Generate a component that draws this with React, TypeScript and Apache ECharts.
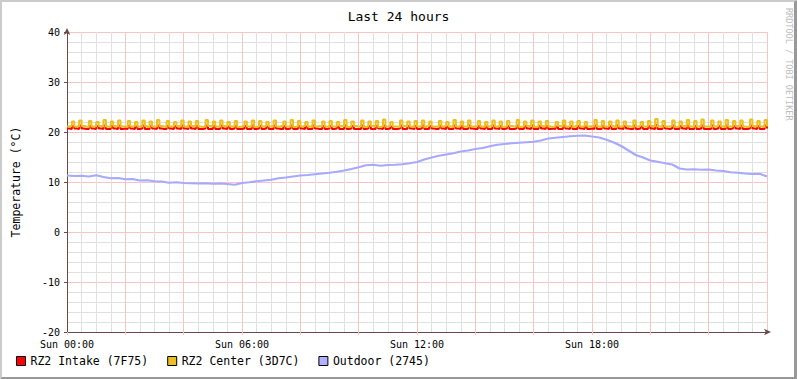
import React, { useEffect, useRef } from "react";
import * as echarts from "echarts";

// 5-minute samples, 00:00 .. 24:00 (289 values)
const rz2Intake: number[] = [
  20.7, 20.6, 21.2, 20.7, 20.6, 21.3, 20.7, 20.6, 20.6, 21.2, 20.7, 20.6,
  21.2, 20.7, 20.6, 21.3, 20.6, 20.6, 21.2, 20.7, 20.6, 21.3, 20.6, 20.7,
  20.6, 21.2, 20.7, 20.6, 21.1, 20.6, 20.7, 21.3, 20.6, 20.6, 21.2, 20.7,
  20.6, 21.3, 20.7, 20.6, 20.6, 21.2, 20.7, 20.6, 21.2, 20.7, 20.6, 21.3,
  20.7, 20.6, 21.2, 20.7, 20.6, 21.2, 20.6, 20.6, 20.7, 21.3, 20.6, 20.6,
  21.2, 20.6, 20.6, 21.3, 20.7, 20.6, 21.1, 20.6, 20.7, 21.2, 20.6, 20.6,
  20.7, 21.2, 20.6, 20.6, 21.3, 20.6, 20.7, 21.2, 20.6, 20.7, 21.1, 20.6,
  20.6, 21.3, 20.7, 20.6, 20.6, 21.2, 20.6, 20.7, 21.3, 20.6, 20.6, 21.2,
  20.7, 20.6, 21.1, 20.6, 20.6, 21.3, 20.7, 20.6, 20.6, 21.2, 20.6, 20.7,
  21.2, 20.6, 20.7, 21.1, 20.6, 20.6, 21.3, 20.6, 20.7, 21.2, 20.6, 20.6,
  20.6, 21.3, 20.6, 20.7, 21.2, 20.6, 20.6, 21.2, 20.7, 20.6, 21.3, 20.6,
  20.7, 21.1, 20.6, 20.6, 20.7, 21.3, 20.6, 20.6, 21.2, 20.7, 20.6, 21.2,
  20.6, 20.7, 21.3, 20.6, 20.6, 21.2, 20.7, 20.6, 20.6, 21.2, 20.7, 20.6,
  21.1, 20.6, 20.6, 21.3, 20.7, 20.6, 21.2, 20.6, 20.6, 21.3, 20.7, 20.6,
  20.6, 21.2, 20.7, 20.6, 21.1, 20.6, 20.6, 21.3, 20.7, 20.6, 21.2, 20.6,
  20.7, 21.2, 20.6, 20.6, 20.7, 21.3, 20.6, 20.6, 21.2, 20.7, 20.6, 21.3,
  20.6, 20.6, 21.2, 20.7, 20.6, 21.2, 20.6, 20.7, 20.6, 21.1, 20.6, 20.6,
  21.3, 20.7, 20.6, 21.2, 20.6, 20.6, 21.2, 20.7, 20.6, 21.1, 20.6, 20.7,
  20.6, 21.3, 20.6, 20.6, 21.2, 20.7, 20.6, 21.2, 20.6, 20.6, 21.3, 20.7,
  20.6, 21.2, 20.7, 20.6, 20.6, 21.3, 20.6, 20.7, 21.1, 20.6, 20.6, 21.2,
  20.7, 20.6, 21.4, 20.6, 20.6, 21.2, 20.7, 20.6, 20.7, 21.3, 20.6, 20.6,
  21.2, 20.7, 20.6, 21.3, 20.6, 20.6, 21.2, 20.6, 20.7, 21.3, 20.6, 20.6,
  20.6, 21.3, 20.6, 20.7, 21.2, 20.6, 20.6, 21.3, 20.6, 20.7, 21.2, 20.7,
  20.6, 21.3, 20.6, 20.6, 20.7, 21.3, 20.7, 20.6, 21.2, 20.6, 20.6, 21.3,
  20.7,
];

const rz2Center: number[] = [
  21.1, 21.2, 22.1, 21.1, 21.1, 22.3, 21.2, 21.1, 21.0, 22.2, 21.1, 21.1,
  22.0, 21.2, 21.1, 22.4, 21.1, 21.0, 22.1, 21.2, 21.1, 22.3, 21.1, 21.1,
  21.0, 22.2, 21.1, 21.2, 22.0, 21.1, 21.1, 22.3, 21.2, 21.0, 22.1, 21.1,
  21.1, 22.4, 21.2, 21.1, 21.0, 22.2, 21.1, 21.1, 22.0, 21.2, 21.1, 22.3,
  21.1, 21.0, 22.1, 21.2, 21.1, 22.2, 21.1, 21.0, 21.1, 22.4, 21.2, 21.1,
  22.1, 21.1, 21.0, 22.3, 21.2, 21.1, 22.0, 21.1, 21.1, 22.2, 21.0, 21.1,
  21.2, 22.1, 21.1, 21.1, 22.3, 21.0, 21.1, 22.2, 21.1, 21.2, 22.0, 21.1,
  21.1, 22.3, 21.1, 21.0, 21.2, 22.1, 21.1, 21.1, 22.4, 21.0, 21.1, 22.2,
  21.1, 21.2, 22.0, 21.1, 21.0, 22.3, 21.1, 21.2, 21.1, 22.1, 21.1, 21.0,
  22.2, 21.1, 21.1, 22.0, 21.2, 21.1, 22.4, 21.0, 21.1, 22.1, 21.2, 21.1,
  21.1, 22.3, 21.0, 21.1, 22.1, 21.2, 21.1, 22.2, 21.0, 21.1, 22.5, 21.1,
  21.2, 22.0, 21.1, 21.1, 21.0, 22.3, 21.2, 21.1, 22.1, 21.1, 21.0, 22.2,
  21.1, 21.1, 22.3, 21.0, 21.2, 22.1, 21.1, 21.1, 21.0, 22.2, 21.1, 21.2,
  22.0, 21.1, 21.0, 22.4, 21.1, 21.2, 22.1, 21.1, 21.0, 22.3, 21.1, 21.1,
  21.2, 22.2, 21.1, 21.0, 22.0, 21.1, 21.2, 22.3, 21.1, 21.1, 22.1, 21.0,
  21.1, 22.2, 21.2, 21.1, 21.1, 22.4, 21.0, 21.1, 22.1, 21.2, 21.1, 22.3,
  21.0, 21.1, 22.1, 21.2, 21.1, 22.2, 21.1, 21.0, 21.1, 22.0, 21.2, 21.1,
  22.3, 21.1, 21.1, 22.1, 21.0, 21.2, 22.2, 21.1, 21.1, 22.0, 21.1, 21.2,
  21.1, 22.4, 21.1, 21.0, 22.2, 21.1, 21.1, 22.1, 21.2, 21.0, 22.3, 21.1,
  21.1, 22.1, 21.2, 21.1, 21.0, 22.3, 21.1, 21.2, 22.0, 21.1, 21.1, 22.2,
  21.2, 21.1, 22.6, 21.1, 21.0, 22.2, 21.1, 21.1, 21.2, 22.3, 21.0, 21.1,
  22.1, 21.2, 21.1, 22.4, 21.1, 21.0, 22.2, 21.1, 21.2, 22.5, 21.1, 21.1,
  21.0, 22.3, 21.1, 21.2, 22.1, 21.1, 21.0, 22.4, 21.1, 21.1, 22.2, 21.2,
  21.1, 22.3, 21.1, 21.0, 21.1, 22.5, 21.2, 21.1, 22.2, 21.1, 21.0, 22.4,
  21.1,
];

// 15-minute samples, 00:00 .. 24:00 (97 values)
const outdoor: number[] = [
  11.3, 11.2, 11.25, 11.1, 11.35, 11.0, 10.75, 10.8,
  10.55, 10.6, 10.3, 10.35, 10.15, 10.1, 9.85, 9.95,
  9.8, 9.75, 9.7, 9.75, 9.65, 9.7, 9.6, 9.45,
  9.8, 9.95, 10.15, 10.3, 10.45, 10.75, 10.9, 11.1,
  11.3, 11.4, 11.55, 11.7, 11.85, 12.05, 12.3, 12.6,
  12.95, 13.35, 13.45, 13.25, 13.4, 13.45, 13.55, 13.75,
  14.0, 14.5, 14.9, 15.25, 15.5, 15.75, 16.1, 16.3,
  16.6, 16.8, 17.15, 17.45, 17.6, 17.75, 17.85, 17.95,
  18.05, 18.3, 18.7, 18.85, 19.0, 19.15, 19.25, 19.3,
  19.1, 18.9, 18.45, 17.9, 17.2, 16.3, 15.4, 14.9,
  14.3, 14.05, 13.75, 13.5, 12.7, 12.5, 12.55, 12.45,
  12.5, 12.3, 12.2, 11.95, 11.85, 11.7, 11.6, 11.65,
  11.1,
];

const seriesNames = ["RZ2 Intake (7F75)", "RZ2 Center (3D7C)", "Outdoor (2745)"];
const seriesColors = ["#ff0000", "#ecc01c", "#a8a8ff"];
const xTickLabels = ["Sun 00:00", "Sun 06:00", "Sun 12:00", "Sun 18:00"];
const titleText = "Last 24 hours";
const yAxisTitle = "Temperature (°C)";
const watermark = "RRDTOOL / TOBI OETIKER";

const MONO = "'DejaVu Sans Mono', monospace";
const MAJOR = "#f5c4c4";
const MINOR = "#e0e0e0";

export default function App() {
  const ref = useRef<HTMLDivElement>(null);

  useEffect(() => {
    if (!ref.current) return;
    const chart = echarts.init(ref.current, null, { renderer: "svg" });

    const toPairs = (arr: number[], step: number) => arr.map((v, i) => [i * step, v]);

    const option: any = {
      animation: false,
      backgroundColor: "#ffffff",
      title: {
        text: titleText,
        left: "center",
        top: 5,
        textStyle: { fontFamily: MONO, fontSize: 13, fontWeight: "normal", color: "#000" },
      },
      legend: {
        left: 16,
        top: 355,
        padding: 0,
        itemWidth: 9,
        itemHeight: 9,
        itemGap: 19,
        icon: "rect",
        itemStyle: { borderColor: "#000", borderWidth: 1 },
        textStyle: { fontFamily: MONO, fontSize: 11.5, color: "#000" },
        data: seriesNames,
      },
      grid: { left: 67, right: 30, top: 32, bottom: 47, containLabel: false },
      xAxis: {
        type: "value",
        min: 0,
        max: 1440,
        interval: 120,
        axisLine: {
          show: true,
          onZero: false,
          lineStyle: { color: "#6a4848", width: 1 },
          symbol: ["none", "arrow"],
          symbolSize: [5, 7],
          symbolOffset: [0, 4],
        },
        axisTick: { show: true, length: 3, lineStyle: { color: MAJOR } },
        axisLabel: {
          fontFamily: MONO,
          fontSize: 10,
          color: "#000",
          margin: 7,
          showMaxLabel: false,
          formatter: (v: number) => (v % 360 === 0 && v < 1440 ? xTickLabels[v / 360] : ""),
        },
        splitLine: { show: true, lineStyle: { color: MAJOR, width: 1 } },
        minorTick: { show: false, splitNumber: 4 },
        minorSplitLine: { show: true, lineStyle: { color: MINOR, width: 1 } },
      },
      yAxis: {
        type: "value",
        min: -20,
        max: 40,
        interval: 10,
        axisLine: {
          show: true,
          onZero: false,
          lineStyle: { color: "#6a4848", width: 1 },
          symbol: ["none", "arrow"],
          symbolSize: [5, 7],
          symbolOffset: [0, 4],
        },
        axisTick: { show: true, length: 3, lineStyle: { color: "#6a4848" } },
        axisLabel: { fontFamily: MONO, fontSize: 10, color: "#000", margin: 7 },
        splitLine: { show: true, lineStyle: { color: MAJOR, width: 1 } },
        minorTick: { show: false, splitNumber: 5 },
        minorSplitLine: { show: true, lineStyle: { color: MINOR, width: 1 } },
      },
      series: [
        {
          name: seriesNames[0],
          type: "line",
          step: "end",
          showSymbol: false,
          data: toPairs(rz2Intake, 5),
          itemStyle: { color: seriesColors[0] },
          lineStyle: { color: seriesColors[0], width: 2 },
          z: 3,
        },
        {
          name: seriesNames[1],
          type: "line",
          step: "end",
          showSymbol: false,
          data: toPairs(rz2Center, 5),
          itemStyle: { color: seriesColors[1] },
          lineStyle: { color: seriesColors[1], width: 2 },
          z: 4,
        },
        {
          name: seriesNames[2],
          type: "line",
          showSymbol: false,
          data: toPairs(outdoor, 15),
          itemStyle: { color: "#b0b0ff" },
          lineStyle: { color: seriesColors[2], width: 2.2 },
          z: 3,
        },
      ],
      graphic: [
        {
          type: "polygon",
          shape: { points: [[0, 0], [797, 0], [795, 2], [2, 2], [2, 377], [0, 379]] },
          style: { fill: "#cbcbcb" },
          silent: true,
        },
        {
          type: "polygon",
          shape: { points: [[797, 0], [797, 379], [0, 379], [2, 377], [794, 377], [794, 2]] },
          style: { fill: "#999999" },
          silent: true,
        },
        {
          type: "text",
          x: 16,
          y: 182,
          rotation: Math.PI / 2,
          style: {
            text: yAxisTitle,
            fontFamily: MONO,
            fontSize: 11.5,
            fill: "#000",
            align: "center",
            verticalAlign: "middle",
          },
        },
        {
          type: "text",
          x: 789,
          y: 8,
          rotation: -Math.PI / 2,
          style: {
            text: watermark,
            fontFamily: MONO,
            fontSize: 8.5,
            fill: "#bdbdbd",
            align: "left",
            verticalAlign: "middle",
          },
        },
      ],
    };

    chart.setOption(option);
    return () => chart.dispose();
  }, []);

  return (
    <div
      ref={ref}
      style={{ position: "fixed", left: 0, top: 0, width: 797, height: 379, background: "#fff" }}
    />
  );
}
